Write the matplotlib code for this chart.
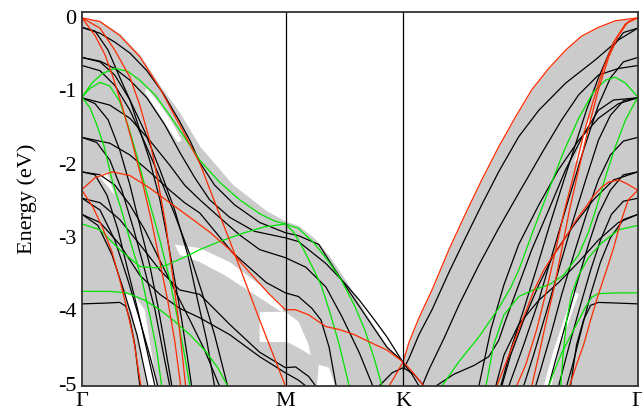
import matplotlib
matplotlib.use("Agg")
import matplotlib.pyplot as plt
from matplotlib import font_manager

# high symmetry points along the path (path length units)
kpath_pos = [0.0, 0.5774, 0.9107, 1.5774]
kpath_lab = ["Γ", "M", "K", "Γ"]

# projected bulk continuum: upper edge (k, E); it is filled down to the bottom
gray_k = [0.0, 0.051, 0.107, 0.164, 0.221, 0.277, 0.334, 0.427, 0.523, 0.577,
          0.614, 0.658, 0.701, 0.744, 0.787, 0.830, 0.874, 0.911, 0.928, 0.956,
          0.993, 1.041, 1.089, 1.134, 1.182, 1.230, 1.276, 1.324, 1.372, 1.417,
          1.465, 1.513, 1.577]
gray_top = [-0.01, -0.05, -0.22, -0.51, -0.93, -1.30, -1.76, -2.28, -2.64, -2.78,
            -2.84, -3.01, -3.25, -3.56, -3.90, -4.23, -4.54, -4.67, -4.43, -4.10,
            -3.72, -3.17, -2.67, -2.22, -1.77, -1.36, -0.99, -0.70, -0.45, -0.26,
            -0.14, -0.05, -0.01]

# gaps inside the continuum
gaps = [
    [(0.184, -0.97), (0.221, -1.19), (0.255, -1.43), (0.283, -1.68), (0.272, -1.71),
     (0.243, -1.50), (0.212, -1.27), (0.178, -1.02)],
    [(0.045, -2.15), (0.071, -2.12), (0.093, -2.43)],
    [(0.263, -3.10), (0.334, -3.15), (0.419, -3.34), (0.504, -3.65), (0.569, -3.93),
     (0.569, -4.03), (0.489, -3.78), (0.405, -3.52), (0.334, -3.34), (0.277, -3.24)],
    [(0.119, -3.77), (0.150, -3.80), (0.178, -3.99), (0.192, -4.41), (0.212, -5.03),
     (0.184, -5.03), (0.164, -4.54), (0.141, -4.02)],
    [(0.504, -4.02), (0.577, -4.02), (0.614, -4.15), (0.643, -4.47), (0.649, -4.61),
     (0.625, -4.54), (0.591, -4.45), (0.577, -4.43), (0.504, -4.43)],
    [(0.672, -4.74), (0.701, -4.78), (0.718, -5.03), (0.666, -5.03)],
    [(1.434, -1.40), (1.448, -1.38), (1.431, -1.68), (1.409, -1.95), (1.397, -1.98),
     (1.414, -1.71)],
    [(1.395, -3.74), (1.409, -3.78), (1.352, -4.54), (1.332, -5.03), (1.310, -5.03),
     (1.338, -4.54)],
]

red_bands = [
    [(0.0, -0.01), (0.051, -0.06), (0.107, -0.25), (0.164, -0.54), (0.221, -0.97),
     (0.277, -1.47), (0.334, -1.99), (0.419, -3.05), (0.504, -4.13), (0.577, -5.03)],
    [(0.871, -5.03), (0.891, -4.87), (0.911, -4.70), (0.928, -4.43), (0.956, -4.10),
     (0.993, -3.72), (1.041, -3.17), (1.089, -2.67), (1.134, -2.22), (1.182, -1.77),
     (1.230, -1.36), (1.276, -0.99), (1.324, -0.70), (1.372, -0.45), (1.417, -0.26),
     (1.465, -0.14), (1.513, -0.05), (1.577, -0.01)],
    [(0.0, -2.35), (0.037, -2.19), (0.085, -2.11), (0.136, -2.16), (0.192, -2.33),
     (0.249, -2.53), (0.306, -2.73), (0.362, -2.93), (0.419, -3.17), (0.475, -3.48),
     (0.532, -3.78), (0.577, -3.99), (0.606, -3.99), (0.643, -4.06), (0.692, -4.22),
     (0.730, -4.26), (0.773, -4.33), (0.807, -4.41), (0.865, -4.54), (0.911, -4.70),
     (0.936, -4.83), (0.970, -5.03)],
    [(0.0, -0.01), (0.037, -0.25), (0.065, -0.51), (0.088, -0.82), (0.113, -1.20),
     (0.141, -1.68), (0.170, -2.22), (0.198, -2.80), (0.221, -3.34), (0.243, -3.86),
     (0.263, -4.41), (0.280, -5.03)],
    [(0.0, -0.01), (0.051, -0.15), (0.093, -0.45), (0.136, -0.82), (0.164, -1.20),
     (0.192, -1.68), (0.215, -2.22), (0.238, -2.84), (0.255, -3.45), (0.272, -4.06),
     (0.283, -4.54), (0.294, -5.03)],
    [(0.0, -2.36), (0.031, -2.59), (0.059, -2.88), (0.085, -3.20), (0.107, -3.58),
     (0.127, -3.97), (0.147, -4.41), (0.167, -5.03)],
    [(1.577, -0.01), (1.542, -0.09), (1.508, -0.34), (1.479, -0.70), (1.451, -1.13),
     (1.423, -1.60), (1.395, -2.15), (1.366, -2.69), (1.344, -3.17), (1.318, -3.72),
     (1.290, -4.26), (1.259, -4.74), (1.233, -5.03)],
    [(1.577, -0.01), (1.550, -0.06), (1.522, -0.25), (1.494, -0.55), (1.465, -0.99),
     (1.437, -1.51), (1.409, -2.08), (1.383, -2.63), (1.361, -3.17), (1.338, -3.72),
     (1.315, -4.19), (1.296, -4.61), (1.276, -5.03)],
    [(1.577, -2.36), (1.545, -2.27), (1.522, -2.22), (1.494, -2.25), (1.474, -2.32),
     (1.451, -2.44), (1.429, -2.59), (1.403, -2.76), (1.380, -2.94), (1.352, -3.15),
     (1.332, -3.28), (1.310, -3.45), (1.281, -3.74), (1.245, -4.19), (1.211, -4.61),
     (1.177, -5.03)],
    [(1.577, -2.36), (1.550, -2.49), (1.528, -2.80), (1.508, -3.15), (1.488, -3.45),
     (1.465, -3.78), (1.443, -4.13), (1.423, -4.47), (1.403, -4.74), (1.383, -5.03)],
]

green_bands = [
    [(0.0, -1.09), (0.028, -0.90), (0.057, -0.77), (0.093, -0.70), (0.130, -0.74),
     (0.164, -0.86), (0.207, -1.06), (0.249, -1.34), (0.291, -1.64), (0.334, -1.95),
     (0.390, -2.25), (0.447, -2.49), (0.504, -2.68), (0.546, -2.78), (0.577, -2.82)],
    [(0.0, -1.09), (0.023, -0.97), (0.051, -0.89), (0.079, -0.94), (0.107, -1.15),
     (0.130, -1.47), (0.150, -1.79), (0.184, -2.40), (0.221, -3.04), (0.249, -3.58),
     (0.272, -4.13), (0.291, -4.61), (0.306, -5.03)],
    [(0.0, -1.09), (0.023, -1.24), (0.042, -1.47), (0.062, -1.75), (0.088, -2.27),
     (0.113, -2.65), (0.136, -3.04), (0.170, -3.58), (0.192, -4.06), (0.212, -4.54),
     (0.226, -5.03)],
    [(0.0, -2.82), (0.051, -2.90), (0.107, -3.17), (0.164, -3.40), (0.212, -3.42),
     (0.240, -3.38), (0.306, -3.24), (0.334, -3.17), (0.390, -3.06), (0.461, -2.94),
     (0.518, -2.86), (0.577, -2.82)],
    [(0.0, -3.74), (0.079, -3.74), (0.127, -3.76), (0.178, -3.86), (0.221, -3.99),
     (0.263, -4.15), (0.306, -4.33), (0.348, -4.54), (0.385, -4.78), (0.413, -5.03)],
    [(0.577, -2.82), (0.614, -2.88), (0.658, -3.08), (0.701, -3.34), (0.735, -3.58),
     (0.773, -3.93), (0.802, -4.26), (0.830, -4.67), (0.851, -5.03)],
    [(0.577, -2.82), (0.600, -2.93), (0.629, -3.17), (0.658, -3.45), (0.678, -3.65),
     (0.701, -3.99), (0.730, -4.47), (0.758, -5.03)],
    [(1.021, -5.03), (1.069, -4.70), (1.126, -4.36), (1.182, -3.97), (1.216, -3.69),
     (1.239, -3.45), (1.281, -2.90), (1.324, -2.36), (1.366, -1.84), (1.409, -1.38),
     (1.451, -1.02), (1.485, -0.86), (1.513, -0.82), (1.542, -0.90), (1.577, -1.09)],
    [(1.577, -1.09), (1.542, -1.40), (1.513, -1.77), (1.485, -2.18), (1.460, -2.59),
     (1.437, -2.93), (1.409, -3.24), (1.366, -3.52), (1.324, -3.65), (1.281, -3.72),
     (1.239, -3.81), (1.197, -4.06), (1.168, -4.47), (1.146, -5.03)],
    [(1.577, -2.84), (1.522, -2.90), (1.474, -3.08), (1.437, -3.28), (1.409, -3.52),
     (1.389, -3.78), (1.375, -4.13), (1.366, -4.54), (1.358, -5.03)],
    [(1.577, -3.76), (1.522, -3.76), (1.465, -3.77), (1.446, -3.82), (1.429, -3.95),
     (1.403, -4.19), (1.380, -4.40), (1.361, -4.58), (1.341, -4.81), (1.324, -5.03)],
]

black_bands = [
    # bands running Gamma -> M -> K
    [(0.0, -0.14), (0.051, -0.22), (0.093, -0.34), (0.136, -0.49), (0.184, -0.73),
     (0.229, -1.03), (0.272, -1.38), (0.306, -1.68), (0.334, -1.98), (0.376, -2.29),
     (0.433, -2.56), (0.504, -2.80), (0.577, -2.94), (0.614, -2.98), (0.672, -3.10),
     (0.709, -3.38), (0.758, -3.74), (0.807, -4.09), (0.865, -4.50), (0.911, -4.70)],
    [(0.0, -0.55), (0.051, -0.60), (0.093, -0.70), (0.136, -0.86), (0.184, -1.10),
     (0.235, -1.47), (0.277, -1.84), (0.320, -2.19), (0.362, -2.49), (0.419, -2.73),
     (0.489, -2.92), (0.577, -3.01), (0.614, -3.06), (0.692, -3.36), (0.744, -3.62),
     (0.787, -3.86), (0.830, -4.13), (0.865, -4.36), (0.911, -4.71), (0.936, -4.87),
     (0.956, -5.03)],
    [(0.0, -1.10), (0.079, -1.20), (0.136, -1.38), (0.192, -1.68), (0.249, -2.02),
     (0.291, -2.29), (0.334, -2.49), (0.390, -2.73), (0.447, -2.97), (0.504, -3.17),
     (0.577, -3.28), (0.635, -3.41), (0.692, -3.68), (0.738, -4.09), (0.787, -4.58),
     (0.825, -5.03)],
    [(0.0, -1.64), (0.079, -1.72), (0.136, -1.88), (0.192, -2.11), (0.249, -2.36),
     (0.291, -2.53), (0.334, -2.67), (0.427, -3.21), (0.523, -3.62), (0.577, -3.76),
     (0.614, -3.81), (0.652, -3.97), (0.678, -4.13), (0.701, -4.50), (0.721, -5.03)],
    [(0.0, -2.47), (0.051, -2.53), (0.107, -2.76), (0.164, -3.10), (0.221, -3.45),
     (0.277, -3.72), (0.334, -3.78), (0.419, -4.19), (0.504, -4.57), (0.577, -4.78),
     (0.606, -4.77), (0.643, -4.90), (0.663, -5.03)],
    [(0.0, -2.69), (0.051, -2.80), (0.107, -3.10), (0.164, -3.52), (0.221, -3.78),
     (0.277, -3.97), (0.334, -4.10), (0.419, -4.33), (0.504, -4.63), (0.577, -4.85),
     (0.614, -4.95), (0.635, -5.03)],
    # steep bands leaving Gamma towards M
    [(0.0, -0.14), (0.037, -0.19), (0.074, -0.45), (0.107, -0.82), (0.136, -1.13),
     (0.164, -1.54), (0.192, -1.95), (0.221, -2.49), (0.243, -3.04), (0.263, -3.58),
     (0.283, -4.13), (0.300, -4.67), (0.311, -5.03)],
    [(0.0, -0.66), (0.051, -0.73), (0.093, -0.93), (0.136, -1.27), (0.178, -1.71),
     (0.221, -2.19), (0.263, -2.69), (0.306, -3.24), (0.342, -3.78), (0.376, -4.33),
     (0.413, -5.03)],
    [(0.0, -0.55), (0.051, -0.61), (0.093, -0.79), (0.136, -1.13), (0.178, -1.56),
     (0.221, -2.08), (0.263, -2.63), (0.300, -3.24), (0.328, -3.86), (0.354, -4.41),
     (0.376, -5.03)],
    [(0.0, -1.10), (0.037, -1.18), (0.074, -1.40), (0.107, -1.81), (0.136, -2.29),
     (0.164, -2.84), (0.192, -3.38), (0.215, -3.93), (0.235, -4.47), (0.255, -5.03)],
    [(0.0, -1.64), (0.042, -1.71), (0.079, -1.95), (0.113, -2.36), (0.147, -2.90),
     (0.178, -3.45), (0.207, -3.99), (0.229, -4.54), (0.249, -5.03)],
    [(0.0, -2.11), (0.037, -2.15), (0.071, -2.43), (0.102, -2.90), (0.130, -3.45),
     (0.158, -3.99), (0.184, -4.54), (0.207, -5.03)],
    [(0.0, -2.11), (0.051, -2.15), (0.093, -2.29), (0.136, -2.56), (0.178, -2.90),
     (0.221, -3.32), (0.263, -3.72), (0.306, -4.13), (0.348, -4.54), (0.390, -5.03)],
    [(0.0, -2.47), (0.051, -2.63), (0.093, -3.04), (0.130, -3.58), (0.164, -4.13),
     (0.192, -4.61), (0.215, -5.03)],
    [(0.0, -2.69), (0.045, -2.84), (0.085, -3.24), (0.122, -3.78), (0.156, -4.33),
     (0.187, -5.03)],
    [(0.0, -3.91), (0.065, -3.90), (0.107, -3.89), (0.124, -3.94), (0.136, -4.13),
     (0.150, -4.47), (0.164, -5.03)],
    # small band around K
    [(0.843, -5.03), (0.880, -4.85), (0.911, -4.78), (0.942, -4.87), (0.970, -5.03)],
    # bands on K -> Gamma
    [(0.911, -4.81), (0.928, -4.65), (0.956, -4.33), (0.993, -3.99), (1.041, -3.48),
     (1.089, -3.00), (1.134, -2.56), (1.182, -2.11), (1.239, -1.63), (1.296, -1.27),
     (1.372, -0.90), (1.457, -0.58), (1.522, -0.31), (1.577, -0.15)],
    [(1.577, -0.66), (1.522, -0.70), (1.465, -0.79), (1.409, -1.06), (1.361, -1.40),
     (1.310, -1.81), (1.239, -2.40), (1.182, -2.88), (1.126, -3.38), (1.069, -3.93),
     (1.027, -4.38), (0.984, -4.81), (0.965, -5.03)],
    [(1.004, -5.03), (1.055, -4.87), (1.112, -4.75), (1.154, -4.63), (1.182, -4.41),
     (1.202, -4.13), (1.239, -3.65), (1.276, -3.17), (1.324, -2.63), (1.372, -2.08),
     (1.423, -1.60), (1.465, -1.27), (1.508, -1.13), (1.577, -1.10)],
    [(1.577, -0.55), (1.536, -0.61), (1.499, -0.83), (1.465, -1.20), (1.423, -1.81),
     (1.380, -2.49), (1.338, -3.17), (1.296, -3.86), (1.253, -4.47), (1.211, -5.03)],
    [(1.577, -1.10), (1.536, -1.14), (1.499, -1.34), (1.465, -1.68), (1.429, -2.22),
     (1.389, -2.84), (1.352, -3.45), (1.315, -4.06), (1.281, -4.61), (1.253, -5.03)],
    [(1.577, -1.64), (1.536, -1.69), (1.499, -1.88), (1.465, -2.22), (1.431, -2.69),
     (1.395, -3.24), (1.361, -3.78), (1.330, -4.33), (1.301, -4.81), (1.287, -5.03)],
    [(1.577, -2.11), (1.536, -2.15), (1.499, -2.36), (1.465, -2.69), (1.437, -3.10),
     (1.403, -3.65), (1.372, -4.19), (1.344, -4.67), (1.324, -5.03)],
    [(1.577, -2.47), (1.536, -2.51), (1.502, -2.69), (1.471, -3.04), (1.443, -3.45),
     (1.414, -3.93), (1.386, -4.41), (1.361, -4.87), (1.352, -5.03)],
    [(1.577, -2.69), (1.536, -2.76), (1.499, -3.01), (1.471, -3.34), (1.443, -3.78),
     (1.417, -4.26), (1.392, -4.74), (1.375, -5.03)],
    [(1.577, -3.91), (1.522, -3.90), (1.465, -3.89), (1.443, -3.93), (1.423, -4.13),
     (1.403, -4.47), (1.386, -5.03)],
    [(1.577, -2.11), (1.508, -2.22), (1.451, -2.49), (1.395, -2.84), (1.338, -3.24),
     (1.296, -3.65), (1.253, -4.13), (1.216, -4.61), (1.191, -5.03)],
    [(1.577, -2.69), (1.522, -2.80), (1.465, -3.04), (1.409, -3.34), (1.352, -3.62),
     (1.296, -3.86), (1.239, -4.19), (1.197, -4.61), (1.174, -5.03)],
    [(1.577, -1.10), (1.522, -1.18), (1.465, -1.38), (1.409, -1.68), (1.352, -2.08),
     (1.296, -2.56), (1.239, -3.10), (1.197, -3.65), (1.160, -4.26), (1.126, -5.03)],
    [(1.577, -0.15), (1.536, -0.21), (1.499, -0.45), (1.465, -0.83), (1.431, -1.27),
     (1.395, -1.81), (1.358, -2.36), (1.324, -2.88), (1.290, -3.42), (1.253, -3.99),
     (1.216, -4.54), (1.188, -5.03)],
]

yticks = [0, -1, -2, -3, -4, -5]
e_min, e_max = -5.03, 0.07

# serif font like the original, DejaVu as a fallback
try:
    font_manager.findfont("Liberation Serif", fallback_to_default=False)
    serif = "Liberation Serif"
    fs = 16
except Exception:
    serif = "DejaVu Serif"
    fs = 13
plt.rcParams["font.family"] = [serif, "DejaVu Serif"]

fig = plt.figure(figsize=(6.42, 4.08), dpi=100)
ax = fig.add_axes([82 / 642, 22 / 408, 556 / 642, 374 / 408])

# continuum
ax.fill_between(gray_k, gray_top, e_min, color="#cbcbcb", lw=0, zorder=1)
for g in gaps:
    ax.fill([p[0] for p in g], [p[1] for p in g], color="white", lw=0, zorder=2)

lw = 0.9
for b in black_bands:
    ax.plot([p[0] for p in b], [p[1] for p in b], color="black", lw=lw, zorder=3)
for b in green_bands:
    ax.plot([p[0] for p in b], [p[1] for p in b], color="#00e400", lw=lw, zorder=4)
for b in red_bands:
    ax.plot([p[0] for p in b], [p[1] for p in b], color="#ff2a00", lw=lw, zorder=5)

for x in kpath_pos[1:-1]:
    ax.axvline(x, color="black", lw=0.9, zorder=6)

ax.set_xlim(kpath_pos[0], kpath_pos[-1])
ax.set_ylim(e_min, e_max)
ax.set_xticks(kpath_pos)
ax.set_xticklabels(kpath_lab, fontsize=fs)
ax.set_yticks(yticks)
ax.set_yticklabels([str(v) for v in yticks], fontsize=fs)
ax.tick_params(length=0, pad=4)
ax.set_ylabel("Energy (eV)", fontsize=fs, labelpad=15)
for s in ax.spines.values():
    s.set_linewidth(1.3)
    s.set_color("#333333")
    s.set_zorder(10)

fig.savefig("out.png", dpi=100)
